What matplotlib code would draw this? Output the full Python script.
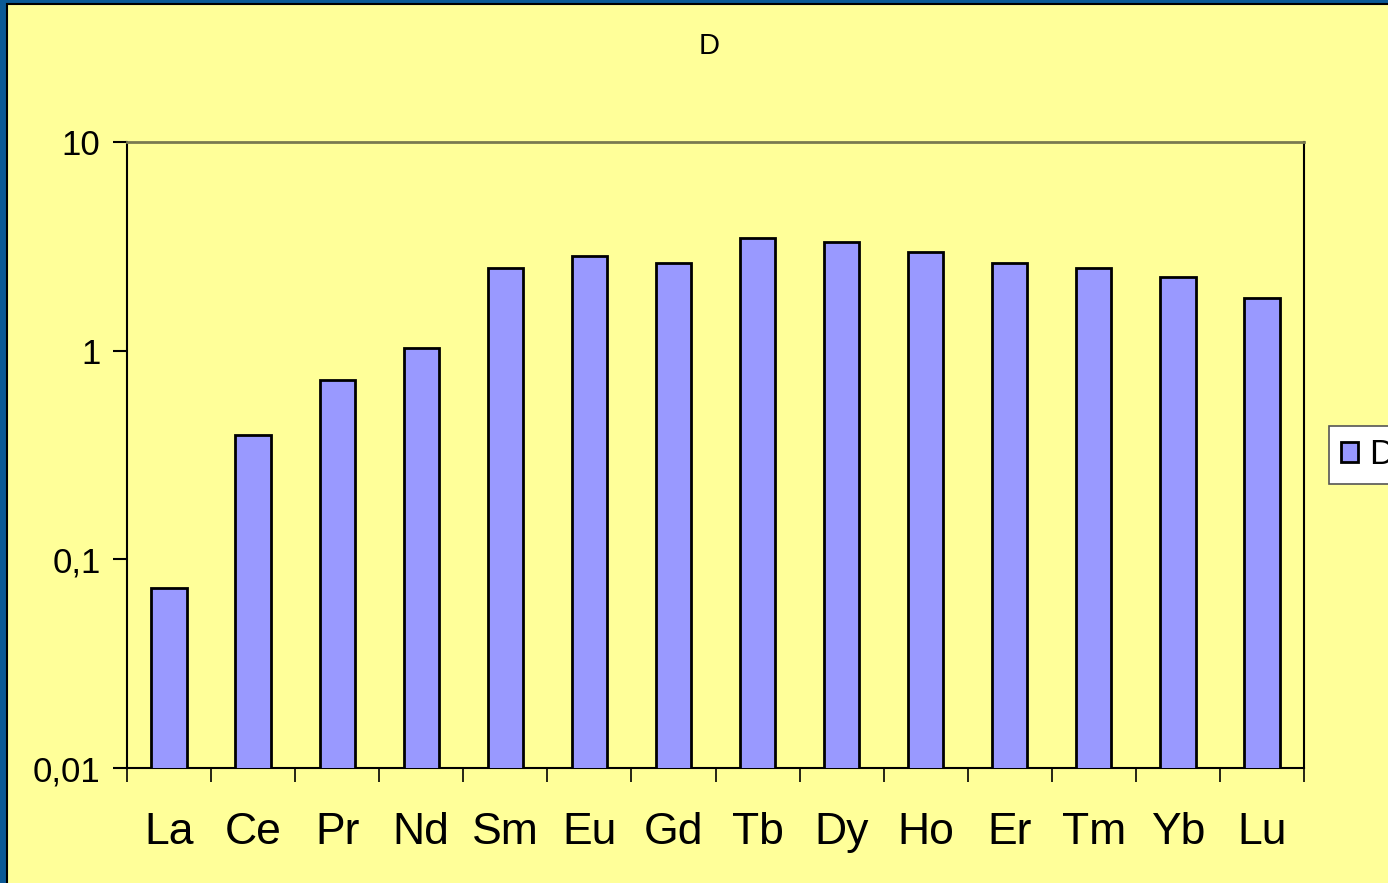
import matplotlib
matplotlib.use('Agg')
import matplotlib.pyplot as plt
from matplotlib.patches import Rectangle
import numpy as np

elements = ['La', 'Ce', 'Pr', 'Nd', 'Sm', 'Eu', 'Gd', 'Tb', 'Dy', 'Ho', 'Er', 'Tm', 'Yb', 'Lu']
d_values = [0.072, 0.395, 0.72, 1.03, 2.49, 2.84, 2.63, 3.46, 3.31, 2.97, 2.63, 2.49, 2.25, 1.79]
y_ticks = [0.01, 0.1, 1, 10]
y_labels = ['0,01', '0,1', '1', '10']

plt.rcParams['font.family'] = ['Liberation Sans', 'DejaVu Sans']

W, H = 1388, 883
fig = plt.figure(figsize=(W / 100, H / 100), dpi=100)
fig.patch.set_facecolor('#0B5A96')

# yellow chart area with thin black border, blue strip left/top
fig.patches.append(Rectangle((7 / W, -0.01), 1, 1.01 - 4 / H, transform=fig.transFigure,
                             facecolor='#FFFF99', edgecolor='black', linewidth=1.5, zorder=-10))

ax = fig.add_axes([127 / W, 1 - 768 / H, (1304 - 127) / W, (768 - 142) / H])
ax.set_facecolor('#FFFF99')

x = np.arange(len(elements))
bars = ax.bar(x, d_values, width=0.42, bottom=0.001, color='#9999FF',
              edgecolor='black', linewidth=2, label='D', zorder=3)

ax.set_yscale('log')
ax.set_ylim(0.01, 10)
ax.set_xlim(-0.5, len(elements) - 0.5)
ax.set_yticks(y_ticks)
ax.set_yticklabels(y_labels, fontsize=25)
ax.yaxis.set_minor_locator(matplotlib.ticker.NullLocator())
ax.tick_params(axis='y', direction='out', length=10, width=1.5, pad=9)

# category labels centered, tick marks at category boundaries
ax.set_xticks(np.arange(len(elements) + 1) - 0.5)
ax.set_xticklabels([''] * (len(elements) + 1))
ax.set_xticks(x, minor=True)
ax.set_xticklabels(elements, minor=True, fontsize=32)
ax.tick_params(axis='x', which='major', direction='out', length=10, width=1.2)
ax.tick_params(axis='x', which='minor', length=0, pad=32)

for side in ['left', 'bottom', 'right']:
    ax.spines[side].set_linewidth(1.5)
    ax.spines[side].set_color('black')
ax.spines['top'].set_linewidth(2)
ax.spines['top'].set_color('#7A7A50')

fig.text(709 / W, 1 - 46 / H, 'D', fontsize=21, ha='center', va='center')

# legend box runs past the right edge, as in the original
leg = ax.legend(loc='center left', bbox_to_anchor=(1.021, 0.5), borderaxespad=0,
                fontsize=25, frameon=True, fancybox=False, edgecolor='#555555',
                facecolor='white', framealpha=1,
                handlelength=0.5, handleheight=0.5, handletextpad=0.3,
                borderpad=0.35)
leg.get_frame().set_linewidth(1.2)

fig.savefig('out.png', dpi=100, facecolor=fig.get_facecolor())
